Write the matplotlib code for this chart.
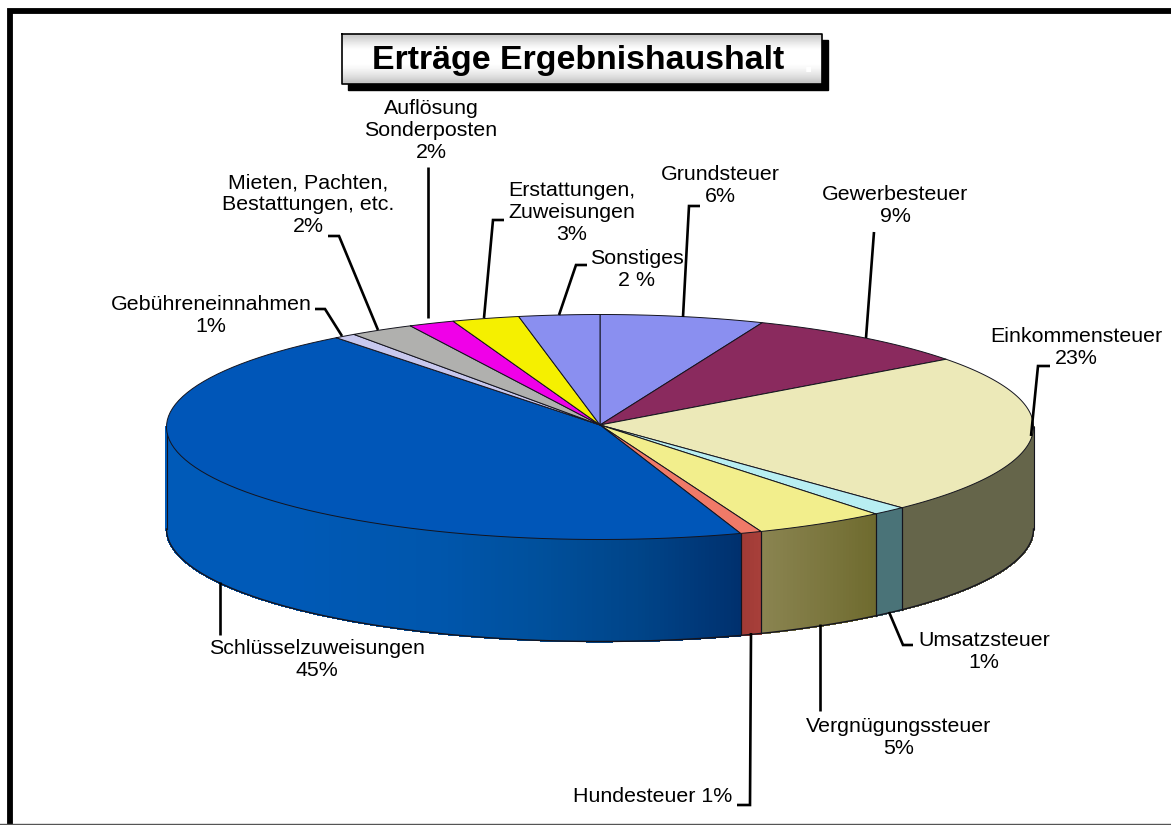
import numpy as np
import matplotlib
matplotlib.use("Agg")
import matplotlib.pyplot as plt
from matplotlib.colors import to_rgb

plt.rcParams['font.family'] = ['Liberation Sans', 'DejaVu Sans']

titel = "Erträge Ergebnishaushalt"

# clockwise from the top of the pie
namen = ["Grundsteuer", "Gewerbesteuer", "Einkommensteuer", "Umsatzsteuer",
         "Vergnügungssteuer", "Hundesteuer", "Schlüsselzuweisungen",
         "Gebühreneinnahmen", "Mieten, Pachten,\nBestattungen, etc.",
         "Auflösung\nSonderposten", "Erstattungen,\nZuweisungen", "Sonstiges"]
prozent_text = ["6%", "9%", "23%", "1%", "5%", "1%", "45%", "1%", "2%", "2%", "3%", "2 %"]
# slice sizes as they were measured on the picture
anteile = [6.1, 8.6, 23.0, 1.3, 4.9, 0.8, 44.8, 0.8, 2.4, 1.7, 2.5, 3.0]

farben = ["#8a8ff0", "#8a2a5e", "#ece9b8", "#b8eef2", "#f2ee8c", "#f07a68",
          "#0056b8", "#c8c8ee", "#b0b0ae", "#f000e8", "#f5f000", "#8a8ff0"]
# colours of the side wall, along the clockwise direction
seiten_farben = [["#8a8ff0"], ["#8a2a5e"], ["#65654a", "#65654a"], ["#4a7378", "#4a7378"],
                 ["#6e6a2e", "#8a8450"], ["#a8403a", "#a03a36"],
                 ["#00306e", "#004488", "#00509c", "#0056ac", "#0058b2",
                  "#005ab8", "#005ab8", "#005ab8", "#005ab8"],
                 ["#c8c8ee"], ["#b0b0ae"], ["#f000e8"], ["#f5f000"], ["#8a8ff0"]]

# layout of the pie in pixels
cx, cy = 600, 427
rx, ry = 433.5, 112.5
tiefe = 102
LINIE = "#14141e"


def punkt(t):
    return cx + rx * np.sin(t), cy - ry * np.cos(t)


fig = plt.figure(figsize=(11.71, 8.25), dpi=100)
ax = fig.add_axes([0, 0, 1, 1])
ax.axis("off")

# frame
ax.plot([10, 10, 1171], [825, 10.5, 10.5], color="black", lw=4.2, solid_joinstyle="miter", zorder=1)
ax.plot([0, 1171], [824, 824], color="#555555", lw=1, zorder=1)

# title box
ax.fill([348, 828, 828, 348], [40, 40, 90, 90], color="black", zorder=2)
verlauf = np.array([0.80, 0.88, 0.95, 1, 1, 1, 1, 0.97, 0.92, 0.86, 0.78]).reshape(-1, 1)
ax.imshow(verlauf, cmap="gray", vmin=0, vmax=1, extent=[342, 822, 84, 34], aspect="auto",
          interpolation="bilinear", zorder=3)
ax.plot([342, 822, 822, 342, 342], [34, 34, 84, 84, 34], color="black", lw=1.2, zorder=4)
ax.text(578, 60, titel, fontsize=24.4, fontweight="bold", ha="center", va="center", zorder=5)
ax.text(808, 63, ".", fontsize=24.4, fontweight="bold", color="white", ha="center", va="center", zorder=5)

grenzen = np.radians(np.cumsum([0] + anteile) / sum(anteile) * 360)

# side wall, only the front half can be seen
for i in range(len(anteile)):
    a = max(grenzen[i], np.pi / 2)
    b = min(grenzen[i + 1], 3 * np.pi / 2)
    if a >= b:
        continue
    stops = np.array([to_rgb(c) for c in seiten_farben[i]])
    kanten = np.linspace(a, b, int(np.degrees(b - a)) * 2 + 2)
    for k in range(len(kanten) - 1):
        pos = (kanten[k] + kanten[k + 1]) / 2
        f = (pos - a) / (b - a) * (len(stops) - 1)
        farbe = [np.interp(f, np.arange(len(stops)), stops[:, c]) for c in range(3)]
        x0, y0 = punkt(kanten[k])
        x1, y1 = punkt(kanten[k + 1])
        ax.fill([x0, x1, x1, x0], [y0, y1, y1 + tiefe, y0 + tiefe], color=farbe, lw=0.8,
                antialiased=False, zorder=6)
    x0, y0 = punkt(a)
    ax.plot([x0, x0], [y0, y0 + tiefe], color=LINIE, lw=0.8, zorder=7)
    x0, y0 = punkt(b)
    ax.plot([x0, x0], [y0, y0 + tiefe], color=LINIE, lw=0.8, zorder=7)

t_unten = np.linspace(np.pi / 2, 3 * np.pi / 2, 300)
xu, yu = punkt(t_unten)
ax.plot(xu, yu + tiefe, color=LINIE, lw=1.0, zorder=7)

# top of the pie
for i in range(len(anteile)):
    t = np.linspace(grenzen[i], grenzen[i + 1], 80)
    x, y = punkt(t)
    ax.fill(np.r_[cx, x], np.r_[cy - 2, y], facecolor=farben[i], edgecolor=LINIE, lw=0.7,
            joinstyle="round", zorder=8)

# leader lines
fuehrung = [
    [(700, 206), (689, 206), (683, 317)],
    [(874, 232), (866, 338)],
    [(1050, 366), (1038, 366), (1031, 436)],
    [(913, 645), (903, 645), (889, 612)],
    [(820, 711), (820, 624)],
    [(737, 805), (750, 805), (751, 633)],
    [(220, 635), (220, 582)],
    [(315, 309), (325, 309), (342, 336)],
    [(328, 236), (339, 236), (378, 330)],
    [(428, 167), (428, 318)],
    [(504, 220), (493, 220), (484, 318)],
    [(587, 265), (576, 265), (559, 315)],
]
for linie in fuehrung:
    lx, ly = zip(*linie)
    ax.plot(lx, ly, color="black", lw=1.9, solid_joinstyle="miter", solid_capstyle="butt", zorder=9)

# labels
text_pos = [(720, 186), (895, 206), (1076, 348), (984, 652), (899, 738), (653, 796),
            (317, 660), (211, 316), (308, 205), (431, 131), (572, 213), (637, 270)]
for i, (tx, ty) in enumerate(text_pos):
    trenner = " " if namen[i] == "Hundesteuer" else "\n"
    ax.text(tx, ty, namen[i] + trenner + prozent_text[i], fontsize=15.4, ha="center", va="center",
            linespacing=1.2, zorder=10)

ax.set_xlim(0, 1171)
ax.set_ylim(825, 0)
fig.savefig("out.png", dpi=100, facecolor="white")
